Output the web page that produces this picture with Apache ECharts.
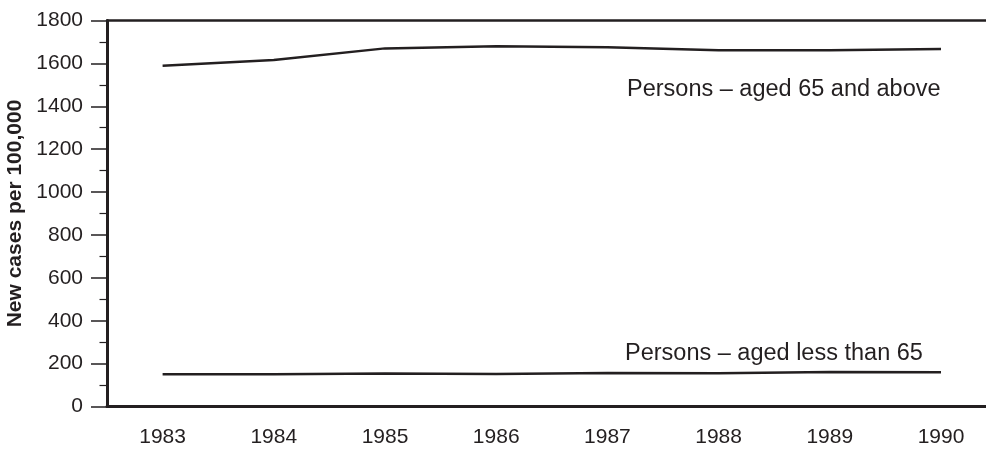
<!DOCTYPE html>
<html>
<head>
<meta charset="utf-8">
<script src="https://cdn.jsdelivr.net/npm/echarts@6/dist/echarts.min.js"></script>
<style>html,body{margin:0;padding:0;background:#fff;}#c{width:986px;height:450px;}</style>
</head>
<body>
<div id="c"></div>
<script>
const years = ['1983','1984','1985','1986','1987','1988','1989','1990'];
const aged65Above = [1589, 1616, 1670, 1680, 1675, 1661, 1661, 1667];
const agedBelow65 = [150, 150, 154, 152, 156, 155, 161, 160];
const yTicks = [0, 200, 400, 600, 800, 1000, 1200, 1400, 1600, 1800];
const labelAbove = 'Persons – aged 65 and above';
const labelBelow = 'Persons – aged less than 65';
const yName = 'New cases per 100,000';

const ink = '#231f20';
const font = 'Liberation Sans, Arial, sans-serif';
const chart = echarts.init(document.getElementById('c'), null, {renderer: 'canvas'});
chart.setOption({
  animation: false,
  backgroundColor: '#fff',
  grid: {left: 107, top: 20.5, bottom: 43.5, right: -10.6, containLabel: false, outerBoundsMode: 'none'},
  xAxis: [{
    type: 'category', data: years, boundaryGap: true, position: 'bottom',
    axisLine: {lineStyle: {color: ink, width: 3}},
    axisTick: {alignWithLabel: true, length: 16, lineStyle: {color: ink, width: 1.5}},
    axisLabel: {color: ink, fontSize: 21, fontFamily: font, margin: 20},
    splitLine: {show: false}
  }, {
    type: 'category', data: years, boundaryGap: true, position: 'top',
    axisLine: {lineStyle: {color: ink, width: 2.5}},
    axisTick: {show: false}, axisLabel: {show: false}, splitLine: {show: false}
  }],
  yAxis: {
    type: 'value', min: yTicks[0], max: yTicks[yTicks.length - 1], interval: yTicks[1] - yTicks[0],
    name: yName, nameLocation: 'middle', nameGap: 74, nameRotate: 90,
    nameTextStyle: {color: ink, fontSize: 21, fontWeight: 'bold', fontFamily: font},
    axisLine: {show: true, lineStyle: {color: ink, width: 3}},
    axisTick: {show: true, length: 16, lineStyle: {color: ink, width: 1.5}},
    minorTick: {show: true, splitNumber: 2, length: 7.5, lineStyle: {color: ink, width: 1.2}},
    axisLabel: {color: ink, fontSize: 21, fontFamily: font, margin: 24, formatter: v => String(v)},
    splitLine: {show: false}
  },
  series: [{
    type: 'line', data: aged65Above, symbol: 'none', smooth: false,
    lineStyle: {color: ink, width: 2.5}
  }, {
    type: 'line', data: agedBelow65, symbol: 'none', smooth: false,
    lineStyle: {color: ink, width: 2.5}
  }],
  graphic: [{
    type: 'text', left: 627, top: 78,
    style: {text: labelAbove, fill: ink, fontSize: 23.5, fontFamily: font}
  }, {
    type: 'text', left: 625, top: 342,
    style: {text: labelBelow, fill: ink, fontSize: 23.5, fontFamily: font}
  }]
});
</script>
</body>
</html>
